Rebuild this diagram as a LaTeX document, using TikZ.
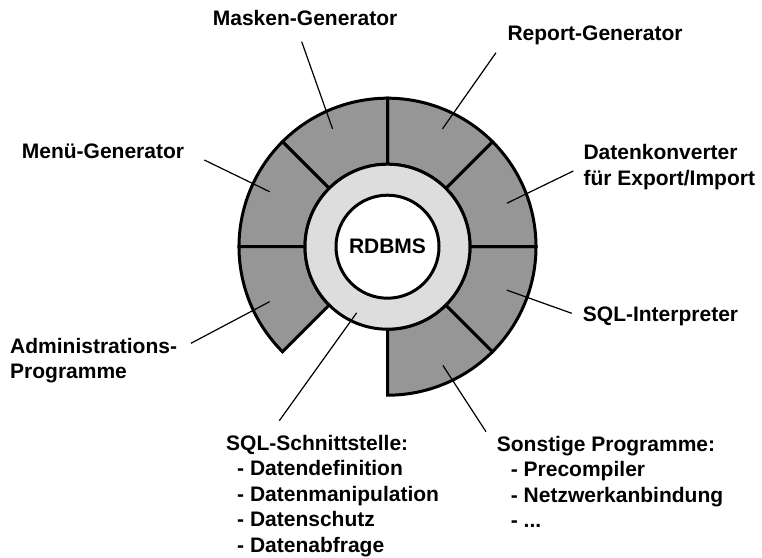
\documentclass[tikz,border=0pt]{standalone}
\usepackage{fontspec}
\setmainfont{Liberation Sans}
\usetikzlibrary{calc}
\definecolor{dunkelgrau}{RGB}{150,150,150}
\definecolor{hellgrau}{RGB}{221,221,221}
\begin{document}
\begin{tikzpicture}[x=1pt,y=1pt,
		rand/.style={line width=3pt},
		zeiger/.style={line width=1.2pt},
		beschriftung/.style={anchor=base west,inner sep=0pt,align=left,
			font=\fontsize{21}{25.5}\selectfont\bfseries}]
		\useasboundingbox (0,0) rectangle (762,557);
		% Mittelpunkt
		\coordinate (M) at (387.5,310.3);
		% Segmente im aeusseren Ring
		\foreach \a in {-90,-45,0,45,90,135,180}
		\draw[rand,fill=dunkelgrau] ($(M)+(\a:82.5)$) -- ($(M)+(\a:148.5)$)
			arc[start angle=\a,end angle=\a+45,radius=148.5]
			-- ($(M)+(\a+45:82.5)$) arc[start angle=\a+45,end angle=\a,radius=82.5] -- cycle;
		% Ring (SQL-Schnittstelle) und Kern
		\node[circle,rand,draw,fill=hellgrau,minimum size=165pt] (ring) at (M) {};
		\node[circle,rand,draw,fill=white,minimum size=103pt,inner sep=0pt,
			font=\fontsize{21}{25.5}\selectfont\bfseries] (rdbms) at (M) {RDBMS};
		% Zeigerpunkte in den Segmenten
		\foreach \n/\a/\r in {mask/115/130,report/65/130,menue/155/130,konv/20/127,
			sqli/-20/127,sonst/-65/131,admin/205/130,sqls/245/73}
		\coordinate (p\n) at ($(M)+(\a:\r)$);
		% Beschriftungen (bei mehreren Zeilen: Grundlinie der letzten Zeile)
		\node[beschriftung] (lmask) at (212.7,531) {Masken-Generator};
		\node[beschriftung] (lreport) at (507.3,516) {Report-Generator};
		\node[beschriftung] (lmenue) at (21.7,398) {Menü-Generator};
		\node[beschriftung] (lkonv) at (583.3,371.5) {Datenkonverter\\für Export/Import};
		\node[beschriftung] (lsqli) at (582.7,235.3) {SQL-Interpreter};
		\node[beschriftung] (lsonst) at (496.7,29.5) {Sonstige Programme:\\
			\hspace*{14pt}- Precompiler\\\hspace*{14pt}- Netzwerkanbindung\\\hspace*{14pt}- ...};
		\node[beschriftung] (lsqls) at (226,5) {SQL-Schnittstelle:\\
			\hspace*{11pt}- Datendefinition\\\hspace*{11pt}- Datenmanipulation\\
			\hspace*{11pt}- Datenschutz\\\hspace*{11pt}- Datenabfrage};
		\node[beschriftung] (ladmin) at (10,178.2) {Administrations-\\Programme};
		% Zeiger von den Beschriftungen
		\draw[zeiger] (lmask.base west) ++(89,-15.7) -- (pmask);
		\draw[zeiger] (lreport.base west) ++(-11.3,-11.7) -- (preport);
		\draw[zeiger] (lmenue.base east) ++(20,-1) -- (pmenue);
		\draw[zeiger] (lkonv.base west) ++(-10,14.5) -- (pkonv);
		\draw[zeiger] (lsqli.base west) ++(-11,8.4) -- (psqli);
		\draw[zeiger] (lsonst.base west) ++(-10.7,95.8) -- (psonst);
		\draw[zeiger] (lsqls.base west) ++(53.3,131.3) -- (psqls);
		\draw[zeiger] (ladmin.base east) ++(13.7,35.5) -- (padmin);
	\end{tikzpicture}
\end{document}
